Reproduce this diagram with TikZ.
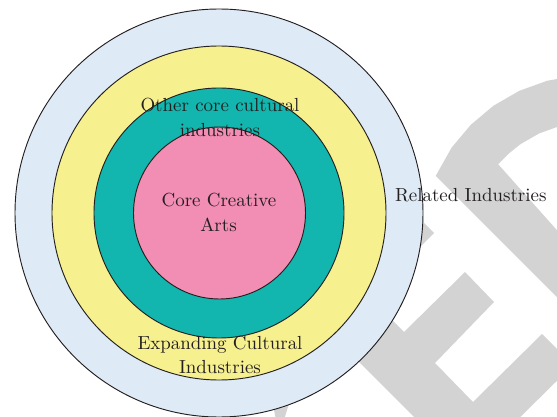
\documentclass[tikz,border=0pt]{standalone}
\usepackage{fontspec}
\newfontfamily\lblfont{lmroman10-regular}[Extension=.otf]
\definecolor{outerblue}{HTML}{DEEAF5}
\definecolor{ringyellow}{HTML}{F6F08F}
\definecolor{ringteal}{HTML}{12B6AE}
\definecolor{corepink}{HTML}{F28DB3}
\definecolor{wmgray}{HTML}{D3D3D3}
\definecolor{ink}{HTML}{231F20}
\tikzset{
  ring/.style={circle, draw=ink, line width=0.7pt, inner sep=0pt, outer sep=0pt},
  lbl/.style={inner sep=0pt, outer sep=0pt, text=ink, font=\lblfont\fontsize{14.2}{17}\selectfont},
  wm/.style={fill=wmgray, draw=none}
}
\begin{document}
\begin{tikzpicture}[x=0.75pt, y=-0.75pt]
\useasboundingbox (0,0) rectangle (557,417);
% watermark shapes
\begin{scope}
\clip (0,0) rectangle (557,417);
\fill[wm] (435.7,175.9) -- (451.7,147.5) -- (470.8,124.8) -- (493.5,105.7) -- (519.2,90.9) -- (547.0,80.8) -- (576.2,75.6)
  -- (580.3,122.5) -- (559.2,126.2) -- (539.0,133.5) -- (520.4,144.2) -- (508.7,153.6) -- (498.2,164.3)
  -- (580,256) -- (580,320.2) -- cycle;
\fill[wm] (300,228) -- (404,332) -- (465,272) -- (494,302) -- (435,363) -- (473,402) -- (542,334) -- (573,365)
  -- (504,433) -- (530,458) -- (456,459) -- (300,303) -- cycle;
\fill[wm] (405,204) -- (434,233) -- (405,262) -- cycle;
\fill[wm] (272,400) -- (290,400) -- (284,420) -- (276,420) -- cycle;
\end{scope}
% concentric circles
\node[ring, fill=outerblue, minimum size=306pt] (related) at (219,213) {};
\node[ring, fill=ringyellow, minimum size=250.5pt] (expanding) at (219,213) {};
\node[ring, fill=ringteal, minimum size=187.5pt] (othercore) at (219,213) {};
\node[ring, fill=corepink, minimum size=129pt] (core) at (219.5,213) {};
% labels
\node[lbl, anchor=base] (oc1) at (220,111.5) {Other core cultural};
\node[lbl, anchor=base] (oc2) at (220,136.5) {industries};
\node[lbl, anchor=base] (cca1) at (219,206.7) {Core Creative};
\node[lbl, anchor=base] (cca2) at (218.5,231.7) {Arts};
\node[lbl, anchor=base] (ec1) at (220,349.3) {Expanding Cultural};
\node[lbl, anchor=base] (ec2) at (220,373.3) {Industries};
\node[lbl, anchor=base west] (ri) at (395,201.7) {Related Industries};
\end{tikzpicture}
\end{document}
